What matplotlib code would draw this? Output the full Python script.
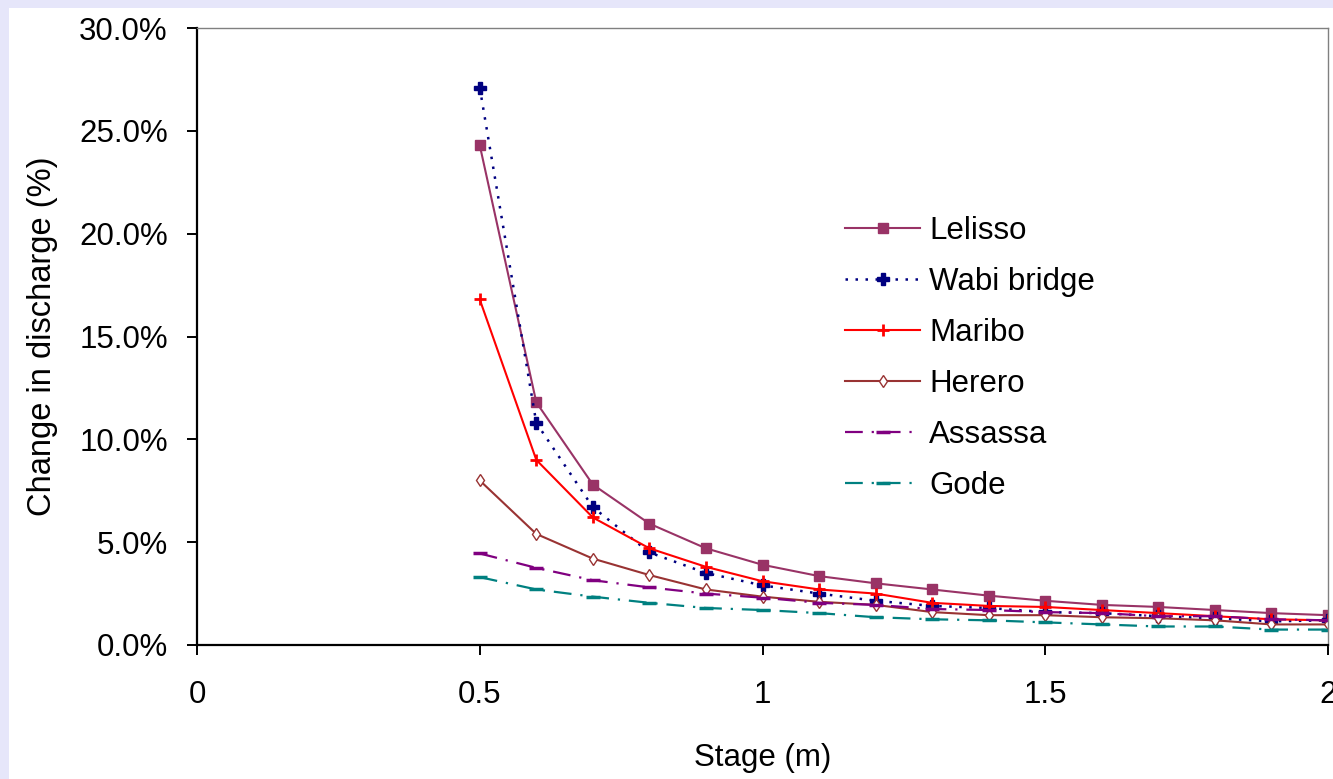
import matplotlib
matplotlib.use('Agg')
import matplotlib.pyplot as plt
from matplotlib.patches import Rectangle
from matplotlib.ticker import FuncFormatter

# stage (m)
stage = [0.5, 0.6, 0.7, 0.8, 0.9, 1.0, 1.1, 1.2, 1.3, 1.4, 1.5, 1.6, 1.7, 1.8, 1.9, 2.0]

# change in discharge (%)
lelisso = [24.3, 11.8, 7.8, 5.9, 4.7, 3.9, 3.35, 3.0, 2.7, 2.4, 2.15, 1.95, 1.85, 1.7, 1.55, 1.45]
wabi = [27.1, 10.8, 6.7, 4.5, 3.5, 2.9, 2.5, 2.15, 1.9, 1.8, 1.6, 1.55, 1.4, 1.3, 1.15, 1.2]
maribo = [16.8, 9.0, 6.2, 4.7, 3.8, 3.1, 2.7, 2.5, 2.05, 1.9, 1.85, 1.7, 1.55, 1.4, 1.25, 1.2]
herero = [8.0, 5.4, 4.2, 3.4, 2.7, 2.35, 2.1, 1.95, 1.6, 1.45, 1.45, 1.35, 1.3, 1.2, 1.0, 1.0]
assassa = [4.45, 3.75, 3.15, 2.8, 2.5, 2.3, 2.05, 1.95, 1.75, 1.7, 1.6, 1.55, 1.4, 1.4, 1.25, 1.2]
gode = [3.3, 2.7, 2.35, 2.05, 1.8, 1.7, 1.55, 1.35, 1.25, 1.2, 1.1, 1.0, 0.9, 0.9, 0.75, 0.75]

plt.rcParams['font.family'] = ['Liberation Sans', 'DejaVu Sans']
FS = 22.5

fig = plt.figure(figsize=(13.33, 7.79), dpi=100, facecolor='#E6E6FA')
# white panel inside lavender frame
fig.patches.append(Rectangle((9 / 1333, 0), 1, 1 - 8 / 779, transform=fig.transFigure,
                             facecolor='white', edgecolor='none', zorder=-5))

ax = fig.add_axes([197 / 1333, 1 - 645 / 779, 1131 / 1333, 617 / 779])
ax.set_facecolor('white')

dashdot = (0, (8, 4, 1, 4))
ax.plot(stage, lelisso, color='#993366', lw=1.5, marker='s', ms=7, label='Lelisso')
ax.plot(stage, wabi, color='#000080', lw=1.8, ls=(0, (1, 3)), marker='P', ms=8, label='Wabi bridge')
ax.plot(stage, maribo, color='#FF0000', lw=1.5, marker='+', ms=9, mew=2, label='Maribo')
ax.plot(stage, herero, color='#993333', lw=1.5, marker='d', ms=6, mfc='white', label='Herero')
ax.plot(stage, assassa, color='#800080', lw=1.6, ls=dashdot, marker='_', ms=10, mew=2.5, label='Assassa')
ax.plot(stage, gode, color='#008080', lw=1.6, ls=dashdot, marker='_', ms=10, mew=2.5, label='Gode')

ax.set_xlim(0, 2)
ax.set_ylim(0, 30)
ax.set_xticks([0, 0.5, 1, 1.5, 2])
ax.set_xticklabels(['0', '0.5', '1', '1.5', '2'])
ax.set_yticks([0, 5, 10, 15, 20, 25, 30])
ax.yaxis.set_major_formatter(FuncFormatter(lambda v, p: f'{v:.1f}%'))

for s in ['left', 'bottom']:
    ax.spines[s].set_linewidth(1.6)
    ax.spines[s].set_color('black')
for s in ['top', 'right']:
    ax.spines[s].set_linewidth(1.0)
    ax.spines[s].set_color('#808080')

ax.tick_params(axis='both', direction='out', length=7, width=1.4, labelsize=FS, colors='black')
ax.tick_params(axis='y', pad=14)
ax.tick_params(axis='x', pad=18)

ax.set_xlabel('Stage (m)', fontsize=FS, labelpad=24)
ax.set_ylabel('Change in discharge (%)', fontsize=23.5, labelpad=15)

ax.legend(loc='upper left', bbox_to_anchor=(845 / 1333, 1 - 216 / 779), bbox_transform=fig.transFigure,
          frameon=False, fontsize=FS, handlelength=2.4, handletextpad=0.3, labelspacing=0.67,
          borderpad=0, borderaxespad=0, numpoints=1)

fig.savefig('out.png', dpi=100, facecolor=fig.get_facecolor())
